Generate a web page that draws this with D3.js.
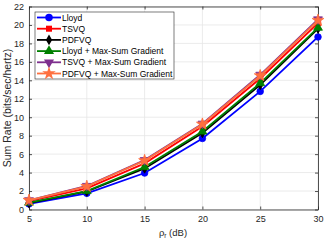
<!DOCTYPE html>
<html>
<head>
<meta charset="utf-8">
<script src="https://cdn.jsdelivr.net/npm/d3@7"></script>
<style>
  body { margin: 0; background: #fff; }
  text { font-family: "Liberation Sans", Arial, sans-serif; }
</style>
</head>
<body>
<div id="chart"></div>
<script>
// data
const snr = [5, 10, 15, 20, 25, 30];
const lloyd = [0.6, 1.75, 3.95, 7.7, 12.8, 18.7];
const tsvq = [0.9, 2.3, 5.0, 9.0, 14.2, 20.2];
const pdfvq = [0.7, 1.95, 4.45, 8.3, 13.5, 19.6];
const lloydMsg = [0.75, 2.0, 4.6, 8.45, 13.7, 19.7];
const tsvqMsg = [1.0, 2.55, 5.35, 9.3, 14.6, 20.6];
const pdfvqMsg = [1.0, 2.5, 5.3, 9.25, 14.5, 20.5];
const seriesNames = ["Lloyd", "TSVQ", "PDFVQ", "Lloyd + Max-Sum Gradient", "TSVQ + Max-Sum Gradient", "PDFVQ + Max-Sum Gradient"];
const xTicks = [5, 10, 15, 20, 25, 30];
const yTicks = [0, 2, 4, 6, 8, 10, 12, 14, 16, 18, 20, 22];

const series = [
  { name: seriesNames[0], values: lloyd, color: "#0000ff", symbol: d3.symbolCircle, size: 34 },
  { name: seriesNames[1], values: tsvq, color: "#ff0000", symbol: d3.symbolSquare, size: 28 },
  { name: seriesNames[2], values: pdfvq, color: "#000000", symbol: d3.symbolDiamond, size: 26 },
  { name: seriesNames[3], values: lloydMsg, color: "#008000", symbol: d3.symbolTriangle, size: 34 },
  { name: seriesNames[4], values: tsvqMsg, color: "#7e2f8e", symbol: d3.symbolTriangle, size: 34, flip: true },
  { name: seriesNames[5], values: pdfvqMsg, color: "#ff7040", symbol: d3.symbolStar, size: 44 }
];

const width = 324, height = 243;
const margin = { top: 6.5, right: 6, bottom: 33.5, left: 29 };

const svg = d3.select("#chart").append("svg")
    .attr("width", width)
    .attr("height", height);

const x = d3.scaleLinear().domain([5, 30]).range([margin.left, width - margin.right]);
const y = d3.scaleLinear().domain([0, 22]).range([height - margin.bottom, margin.top]);

// grid
svg.append("g")
    .selectAll("line")
    .data(xTicks)
    .join("line")
    .attr("x1", d => x(d)).attr("x2", d => x(d))
    .attr("y1", y(0)).attr("y2", y(22))
    .attr("stroke", "#e6e6e6").attr("stroke-width", 0.8);
svg.append("g")
    .selectAll("line")
    .data(yTicks)
    .join("line")
    .attr("x1", x(5)).attr("x2", x(30))
    .attr("y1", d => y(d)).attr("y2", d => y(d))
    .attr("stroke", "#e6e6e6").attr("stroke-width", 0.8);

// axes
const axisColor = "#262626";
svg.append("g")
    .attr("transform", `translate(0,${y(0)})`)
    .call(d3.axisBottom(x).tickValues(xTicks).tickSizeInner(-3).tickSizeOuter(0).tickPadding(6));
svg.append("g")
    .attr("transform", `translate(${x(5)},0)`)
    .call(d3.axisLeft(y).tickValues(yTicks).tickSizeInner(-3).tickSizeOuter(0).tickPadding(5));
svg.append("g")
    .attr("transform", `translate(0,${y(22)})`)
    .call(d3.axisTop(x).tickValues(xTicks).tickSizeInner(-3).tickSizeOuter(0).tickFormat(""));
svg.append("g")
    .attr("transform", `translate(${x(30)},0)`)
    .call(d3.axisRight(y).tickValues(yTicks).tickSizeInner(-3).tickSizeOuter(0).tickFormat(""));
svg.selectAll(".domain, .tick line").attr("stroke", axisColor).attr("stroke-width", 0.8);
svg.selectAll(".tick text").attr("fill", axisColor).style("font-size", "9px");

// labels
svg.append("text")
    .attr("x", 173).attr("y", 236)
    .attr("text-anchor", "middle")
    .attr("fill", axisColor)
    .style("font-size", "9.5px")
    .html('ρ<tspan dy="2" font-size="6.5px">r</tspan><tspan dy="-2"> (dB)</tspan>');
svg.append("text")
    .attr("transform", `translate(11,${(y(0) + y(22)) / 2}) rotate(-90)`)
    .attr("text-anchor", "middle")
    .attr("fill", axisColor)
    .style("font-size", "10.5px")
    .text("Sum Rate (bits/sec/hertz)");

// lines and markers
const line = d3.line().x((d, i) => x(snr[i])).y(d => y(d));
series.forEach(s => {
  const g = svg.append("g");
  g.append("path")
      .datum(s.values)
      .attr("d", line)
      .attr("fill", "none")
      .attr("stroke", s.color)
      .attr("stroke-width", 1.8);
  g.selectAll("path.m")
      .data(s.values)
      .join("path")
      .attr("class", "m")
      .attr("d", d3.symbol().type(s.symbol).size(s.size))
      .attr("transform", (d, i) => `translate(${x(snr[i])},${y(d)})` + (s.flip ? " rotate(180)" : ""))
      .attr("fill", s.color)
      .attr("stroke", s.color)
      .attr("stroke-width", 0.8);
});

// legend
const legend = svg.append("g").attr("transform", "translate(35,12)");
legend.append("rect")
    .attr("width", 139).attr("height", 67)
    .attr("fill", "#fff")
    .attr("stroke", axisColor).attr("stroke-width", 0.6);
series.forEach((s, i) => {
  const ly = 5.5 + i * 11.2;
  legend.append("line")
      .attr("x1", 2).attr("x2", 26)
      .attr("y1", ly).attr("y2", ly)
      .attr("stroke", s.color).attr("stroke-width", 1.8);
  legend.append("path")
      .attr("d", d3.symbol().type(s.symbol).size(s.size * 1.3))
      .attr("transform", `translate(14,${ly})` + (s.flip ? " rotate(180)" : ""))
      .attr("fill", s.color);
  legend.append("text")
      .attr("x", 27).attr("y", ly + 3)
      .attr("fill", "#000")
      .style("font-size", "8.5px")
      .text(s.name);
});
</script>
</body>
</html>
